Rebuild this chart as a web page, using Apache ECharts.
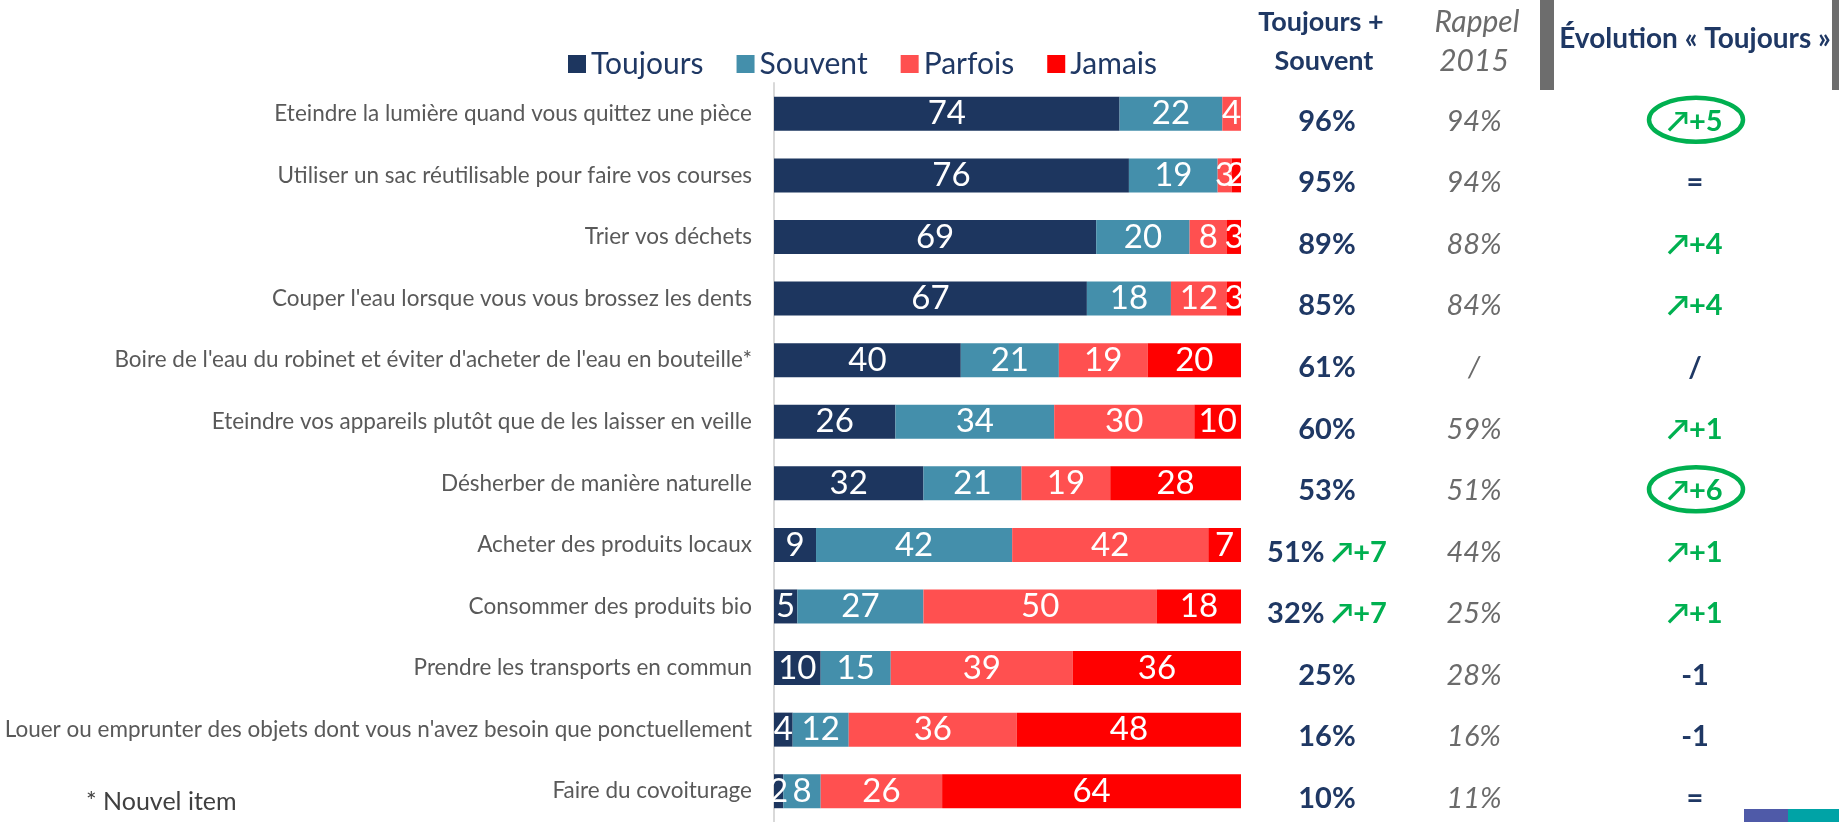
<!DOCTYPE html>
<html>
<head>
<meta charset="utf-8">
<script src="https://cdn.jsdelivr.net/npm/echarts@6/dist/echarts.min.js"></script>
<style>
  html, body { margin: 0; padding: 0; background: #fff; }
  #chart { width: 1839px; height: 822px; }
</style>
</head>
<body>
<div id="chart"></div>
<script>
// categories, top to bottom
var categories = [
  'Eteindre la lumière quand vous quittez une pièce',
  'Utiliser un sac réutilisable pour faire vos courses',
  'Trier vos déchets',
  "Couper l'eau lorsque vous vous brossez les dents",
  "Boire de l'eau du robinet et éviter d'acheter de l'eau en bouteille*",
  'Eteindre vos appareils plutôt que de les laisser en veille',
  'Désherber de manière naturelle',
  'Acheter des produits locaux',
  'Consommer des produits bio',
  'Prendre les transports en commun',
  "Louer ou emprunter des objets dont vous n'avez besoin que ponctuellement",
  'Faire du covoiturage'
];
var toujours = [74, 76, 69, 67, 40, 26, 32, 9, 5, 10, 4, 2];
var souvent  = [22, 19, 20, 18, 21, 34, 21, 42, 27, 15, 12, 8];
var parfois  = [4, 3, 8, 12, 19, 30, 19, 42, 50, 39, 36, 26];
var jamais   = [0, 2, 3, 3, 20, 10, 28, 7, 18, 36, 48, 64];

// right-hand columns
var toujoursSouvent = ['96%', '95%', '89%', '85%', '61%', '60%', '53%', '51%', '32%', '25%', '16%', '10%'];
var tsEvolution     = ['', '', '', '', '', '', '', '↗+7', '↗+7', '', '', ''];
var rappel2015      = ['94%', '94%', '88%', '84%', '/', '59%', '51%', '44%', '25%', '28%', '16%', '11%'];
var evolution       = ['↗+5', '=', '↗+4', '↗+4', '/', '↗+1', '↗+6', '↗+1', '↗+1', '-1', '-1', '='];
var circled         = [0, 6];

var NAVY = '#1f3864';
var GREEN = '#00b050';
var GREY = '#6b6b6b';
var FONT = 'Lato';

var chart = echarts.init(document.getElementById('chart'));

function barSeries(name, data, color) {
  return {
    name: name,
    type: 'bar',
    stack: 'total',
    barWidth: 34,
    data: data,
    itemStyle: { color: color },
    label: {
      show: true,
      position: 'inside',
      color: '#fff',
      fontFamily: FONT,
      fontSize: 33,
      formatter: function (p) { return p.value ? p.value : ''; }
    }
  };
}

// extra category axes on the right, used as text columns
function colAxis(offset, formatter, rich) {
  return {
    type: 'category',
    gridIndex: 0,
    position: 'right',
    offset: offset,
    inverse: true,
    data: categories,
    axisLine: { show: false },
    axisTick: { show: false },
    axisLabel: {
      align: 'center',
      margin: 0,
      padding: [15, 0, 0, 0],
      formatter: formatter,
      rich: rich
    }
  };
}

function headerText(text, x, y, font, color) {
  return {
    type: 'text',
    style: { text: text, x: x, y: y, textAlign: 'center', textVerticalAlign: 'middle', font: font, fill: color }
  };
}

var option = {
  animation: false,
  textStyle: { fontFamily: FONT },
  legend: {
    left: 563,
    top: 44,
    itemWidth: 18,
    itemHeight: 18,
    itemGap: 33,
    icon: 'rect',
    textStyle: { color: NAVY, fontSize: 30, fontFamily: FONT },
    data: ['Toujours', 'Souvent', 'Parfois', 'Jamais']
  },
  grid: { left: 774, top: 83, width: 467, height: 741 },
  xAxis: { type: 'value', min: 0, max: 100, show: false },
  yAxis: [
    {
      type: 'category',
      inverse: true,
      data: categories,
      axisLine: { show: true, lineStyle: { color: '#d9d9d9', width: 2 } },
      axisTick: { show: false },
      axisLabel: { color: '#595959', fontSize: 22.5, fontFamily: FONT, margin: 22 }
    },
    colAxis(86, function (v, i) {
      return tsEvolution[i]
        ? '{v|' + toujoursSouvent[i] + ' }{g|' + tsEvolution[i] + '}'
        : '{v|' + toujoursSouvent[i] + '}';
    }, {
      v: { color: NAVY, fontSize: 29, fontWeight: 'bold', fontFamily: FONT },
      g: { color: GREEN, fontSize: 29, fontWeight: 'bold', fontFamily: FONT }
    }),
    colAxis(233, function (v, i) {
      return '{r|' + rappel2015[i] + '}';
    }, {
      r: { color: GREY, fontSize: 29, fontStyle: 'italic', fontFamily: FONT }
    }),
    colAxis(454, function (v, i) {
      var e = evolution[i];
      return e.indexOf('↗') === 0 ? '{g|' + e + '}' : '{n|' + e + '}';
    }, {
      g: { color: GREEN, fontSize: 29, fontWeight: 'bold', fontFamily: FONT },
      n: { color: NAVY, fontSize: 29, fontWeight: 'bold', fontFamily: FONT }
    })
  ],
  series: [
    barSeries('Toujours', toujours, '#1d365f'),
    barSeries('Souvent', souvent, '#448fab'),
    barSeries('Parfois', parfois, '#ff5050'),
    barSeries('Jamais', jamais, '#ff0000')
  ],
  graphic: [
    headerText('Toujours +', 1321, 22, 'bold 27px Lato', NAVY),
    headerText('Souvent', 1324, 61, 'bold 27px Lato', NAVY),
    headerText('Rappel', 1477, 22, 'italic 30px Lato', GREY),
    headerText('2015', 1474, 61, 'italic 30px Lato', GREY),
    { type: 'rect', shape: { x: 1540, y: 0, width: 14, height: 90 }, style: { fill: '#6d6d6d' } },
    { type: 'rect', shape: { x: 1832, y: 0, width: 8, height: 90 }, style: { fill: '#6d6d6d' } },
    headerText('Évolution « Toujours »', 1695, 39, 'bold 28px Lato', NAVY),
    { type: 'text', style: { text: '* Nouvel item', x: 86, y: 802, textVerticalAlign: 'middle', fill: '#404040', font: '25px Lato' } },
    { type: 'rect', shape: { x: 1744, y: 809, width: 50, height: 13 }, style: { fill: '#4f5aa8' } },
    { type: 'rect', shape: { x: 1788, y: 809, width: 51, height: 13 }, style: { fill: '#00a3a6' } }
  ]
};

chart.setOption(option);

// green ellipses around highlighted evolutions
var ellipses = circled.map(function (i) {
  var y = chart.convertToPixel({ yAxisIndex: 0 }, categories[i]);
  return {
    type: 'ellipse',
    shape: { cx: 1696, cy: y + 6, rx: 47, ry: 22 },
    style: { fill: 'none', stroke: GREEN, lineWidth: 4.5 }
  };
});
chart.setOption({ graphic: option.graphic.concat(ellipses) });
</script>
</body>
</html>
